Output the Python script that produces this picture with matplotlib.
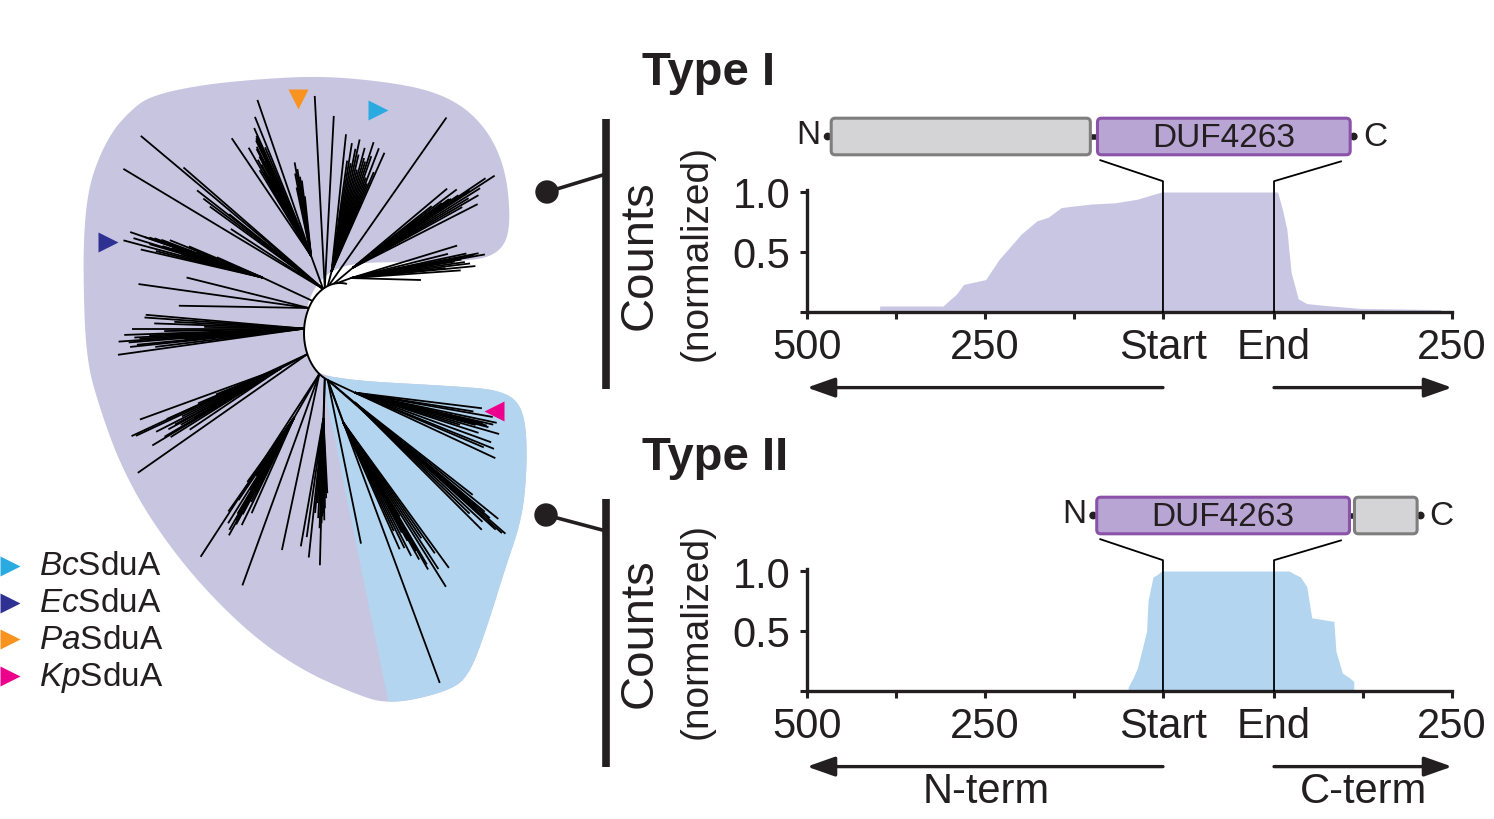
import numpy as np
import matplotlib
matplotlib.use("Agg")
import matplotlib.pyplot as plt
from matplotlib.patches import Polygon, FancyBboxPatch, Circle
from matplotlib.collections import LineCollection

plt.rcParams['font.family'] = ['Liberation Sans', 'DejaVu Sans']
plt.rcParams['mathtext.fontset'] = 'custom'
plt.rcParams['mathtext.rm'] = 'Liberation Sans'
plt.rcParams['mathtext.it'] = 'Liberation Sans:italic'

INK = '#231f20'
PURPLE_BG = '#c8c5e1'
BLUE_BG = '#b4d5ef'
DUF_FACE = '#b9a5d4'
DUF_EDGE = '#8a52a8'
GREY_FACE = '#d4d4d6'
GREY_EDGE = '#7e7e7e'

# ---------------- data: coverage profiles ----------------
# x in residues relative to domain: negative = N-terminal side, 0 = Start, END = End
END = 156
xtick_pos = [-500, -375, -250, -125, 0, END, END + 125, END + 250]
xtick_lab = ['500', '', '250', '', 'Start', 'End', '', '250']
ytick_pos = [0, 0.5, 1.0]
ytick_lab = ['', '0.5', '1.0']

type1_pos = [-398, -309, -290, -280, -249, -230, -218, -199, -177, -161, -143, -130,
             -100, -67, -36, -2, 161, 168, 174, 180, 190, 202, 227, 277, 390]
type1_cnt = [0.05, 0.05, 0.15, 0.23, 0.27, 0.44, 0.52, 0.65, 0.76, 0.79, 0.87, 0.88,
             0.90, 0.91, 0.94, 1.0, 1.0, 0.85, 0.69, 0.33, 0.11, 0.07, 0.055, 0.03, 0.02]

type2_pos = [-49, -42, -36, -30, -23, -21, -14, -8, -2, 177, 183, 193, 202, 209,
             240, 243, 252, 262, 268]
type2_cnt = [0.03, 0.11, 0.19, 0.33, 0.50, 0.75, 0.95, 0.97, 1.0, 1.0, 0.98, 0.95,
             0.87, 0.61, 0.58, 0.33, 0.15, 0.11, 0.08]

# protein architectures (residue units on the same axis)
type1_grey = (-466, -102)
type1_duf = (-92, 263)
type2_duf = (-93, 262)
type2_grey = (269, 357)

# ---------------- data: tree (polar branch data) ----------------
tree_center = (340, 334)
backbone_rx, backbone_ry = 36, 50
backbone_span = (80, 250)
clade_attach = [118, 118, 115, 110, 108, 100, 95, 140, 150, 175, 205, 205, 235, 235,
                245, 245, 250, 250, 250, 250]
clade_node_ang = [0, 110, 0, 75, 0, 40, 20, 155, 0, 0, 0, 208, 0, 240, 0, 268, 0, 290, 320, 335]
clade_node_len = [0, 35, 0, 15, 0, 25, 15, 55, 0, 0, 0, 30, 0, 50, 0, 40, 0, 45, 35, 30]
clade_tip_ang = [
    [149, 140, 142, 144, 147, 139, 141.5, 143],
    [124, 109, 115, 117, 119, 121, 114, 118, 112, 120, 116, 113, 100, 98, 102, 96, 99,
     115.5, 117.5, 118.5, 116.5, 119.5, 114.5, 101, 97],
    [93, 87],
    [84, 81, 78, 75, 72, 69, 66, 80, 76, 73, 70, 77, 68, 79, 74, 71, 82, 67],
    [55],
    [33, 27, 40, 35, 31, 36, 30, 38, 34, 29, 37, 33.5, 32, 35.5, 34.5],
    [10, 5.5, -1.6, 17, 7, 12, 9, 4, 14, 11, 6, 8, 10.5, 9.5],
    [165, 163, 161, 166, 160, 158, 162, 157, 164, 159, 167, 163, 161, 156,
     162.5, 160.5, 159.5, 161.5, 163.5],
    [172, 166, 179],
    [175, 184, 188, 183, 176, 178, 180, 182, 186, 181, 185, 179, 187, 177,
     183.5, 184.5, 182.5, 185.5],
    [205, 215],
    [200, 205, 212, 208, 210, 206, 203, 209, 207, 211, 204, 214, 202, 209.5, 210.5, 208.5],
    [237, 250, 258],
    [238, 240, 242, 236, 244, 239, 241, 237, 243, 235, 246, 234, 240.5, 239.5, 241.5],
    [268.5],
    [269, 270, 271, 267, 272, 266, 268, 270, 273, 265, 262, 264, 260, 269.5, 270.5],
    [281.5, 290.3, 318.7],
    [299, 302, 294, 296, 300, 297, 303, 305, 298, 301, 295, 304, 306, 299.5, 300.5, 298.5],
    [315, 318, 320, 316, 322, 319, 317, 321, 318.5, 319.5],
    [346, 335, 353, 350, 348, 344, 342, 340, 338, 351, 345, 337, 343, 346.5, 347, 345.5],
]
clade_tip_len = [
    [233, 238, 160, 140, 110, 185, 120, 150],
    [142, 165, 130, 120, 110, 100, 140, 90, 150, 125, 105, 118, 95, 80, 70, 60, 88,
     128, 112, 104, 122, 96, 132, 84, 76],
    [192, 172],
    [138, 130, 135, 128, 136, 132, 130, 110, 105, 115, 100, 120, 95, 125, 118, 122, 112, 108],
    [205],
    [169, 140, 123, 120, 135, 110, 145, 100, 160, 125, 130, 140, 150, 118, 128],
    [136, 125, 70, 111, 120, 118, 105, 110, 100, 130, 95, 115, 125, 112],
    [144, 135, 125, 110, 115, 100, 95, 80, 85, 70, 125, 60, 140, 50, 105, 120, 108, 90, 118],
    [172, 126, 130],
    [159, 186, 188, 170, 160, 150, 172, 180, 175, 140, 120, 100, 150, 130, 165, 176, 155, 168],
    [194, 207],
    [150, 160, 130, 120, 100, 110, 90, 80, 140, 150, 125, 110, 70, 115, 135, 128],
    [218, 225, 180],
    [125, 130, 110, 100, 120, 85, 135, 70, 95, 115, 105, 80, 118, 112, 122],
    [187],
    [105, 95, 90, 100, 80, 85, 110, 70, 75, 95, 120, 140, 130, 98, 102],
    [167, 323, 232],
    [157, 194, 139, 140, 170, 150, 175, 160, 125, 110, 120, 140, 180, 148, 165, 135],
    [180, 190, 170, 160, 150, 200, 175, 185, 165, 178],
    [136, 155, 128, 140, 145, 150, 130, 145, 150, 120, 125, 140, 110, 132, 142, 138],
]

# background clade region (outline of the whole tree, tree layout units)
region_x = [150, 200, 260, 320, 380, 430, 465, 490, 505, 510, 508, 495, 470, 400, 355, 330,
            313, 305, 304, 308, 322, 470, 500, 518, 526, 527, 522, 505, 488, 470, 450, 389,
            350, 300, 250, 195, 150, 120, 100, 86, 83, 85, 92, 110, 130]
region_y = [97, 86, 80, 77, 82, 91, 108, 135, 170, 210, 240, 256, 262, 263, 264, 272,
            290, 315, 340, 362, 380, 388, 392, 402, 425, 470, 520, 570, 625, 675, 692, 706,
            693, 670, 635, 580, 520, 465, 410, 360, 270, 215, 175, 135, 112]
# boundary between the two clades (Type I left, Type II right)
split_x = [322, 389]
split_y = [380, 706]

# highlighted tips
mark_names = ['Bc', 'Ec', 'Pa', 'Kp']
mark_colors = ['#29abe2', '#2e3192', '#f7931e', '#ec008c']
mark_x = [378, 108, 298, 494]
mark_y = [111, 243, 100, 412]
mark_shape = ['>', '>', 'v', '<']

# ---------------- figure ----------------
W, H = 1494, 820
fig = plt.figure(figsize=(W / 100, H / 100), dpi=100)
ax0 = fig.add_axes([0, 0, 1, 1])
ax0.set_xlim(0, W)
ax0.set_ylim(H, 0)
ax0.axis('off')


def chaikin(pts, n=3):
    p = np.asarray(pts, float)
    for _ in range(n):
        q = np.roll(p, -1, axis=0)
        p = np.column_stack([0.75 * p + 0.25 * q, 0.25 * p + 0.75 * q]).reshape(-1, 2)
    return p


outline = chaikin(np.column_stack([region_x, region_y]), 4)
ax0.add_patch(Polygon(outline, closed=True, facecolor=PURPLE_BG, edgecolor='none'))
blue = Polygon(outline, closed=True, facecolor=BLUE_BG, edgecolor='none')
ax0.add_patch(blue)
dx_s, dy_s = split_x[1] - split_x[0], split_y[1] - split_y[0]
clip = Polygon([(split_x[0], split_y[0] - 2), (700, split_y[0] - 2), (700, 800),
                (split_x[0] + dx_s * 1.3, split_y[0] + dy_s * 1.3)], closed=True,
               transform=ax0.transData)
blue.set_clip_path(clip)

cx, cy = tree_center


def bb(theta):
    t = np.radians(theta)
    return cx + backbone_rx * np.cos(t), cy - backbone_ry * np.sin(t)


def step(p, ang, length):
    t = np.radians(ang)
    return p[0] + length * np.cos(t), p[1] - length * np.sin(t)


segs = []
th = np.linspace(backbone_span[0], backbone_span[1], 60)
bbx, bby = bb(th)
ax0.plot(bbx, bby, color='black', lw=1.4, solid_capstyle='round')
for att, na, nl, tas, tls in zip(clade_attach, clade_node_ang, clade_node_len,
                                 clade_tip_ang, clade_tip_len):
    p0 = bb(att)
    node = step(p0, na, nl)
    if nl > 0:
        segs.append([p0, node])
    for a, l in zip(tas, tls):
        segs.append([node, step(node, a, l)])
ax0.add_collection(LineCollection(segs, colors='black', linewidths=1.3))

for x, y, c, m in zip(mark_x, mark_y, mark_colors, mark_shape):
    ax0.plot([x], [y], marker=m, ms=15, color=c, mec='none', ls='none')

# legend
for i, (nm, c) in enumerate(zip(mark_names, mark_colors)):
    y = 567 + i * 36.7
    ax0.plot([10], [y], marker='>', ms=14, color=c, mec='none', ls='none', clip_on=False)
    ax0.text(39, y, r'$\mathit{%s}$SduA' % nm, fontsize=24, color=INK, va='center', ha='left')

# ---------------- coverage panels ----------------
SCALE_Y = 120.0  # px per unit count


def make_panel(baseline_px):
    ax = fig.add_axes([807 / W, (H - baseline_px) / H, 645 / W, 1.02 * SCALE_Y / H])
    ax.set_xlim(-500, END + 250)
    ax.set_ylim(0, 1.02)
    ax.patch.set_alpha(0)
    for s in ['top', 'right']:
        ax.spines[s].set_visible(False)
    for s in ['left', 'bottom']:
        ax.spines[s].set_linewidth(2.4)
        ax.spines[s].set_color(INK)
    ax.set_xticks(xtick_pos)
    ax.set_xticklabels(xtick_lab)
    ax.set_yticks(ytick_pos)
    ax.set_yticklabels(ytick_lab)
    ax.tick_params(axis='both', labelsize=30, colors=INK, length=5, width=2.2)
    ax.tick_params(axis='x', pad=6)
    ax.tick_params(axis='y', pad=7)
    return ax


def to_px(ax, x, y):
    d = ax.transData.transform((x, y))
    return d[0], H - d[1]


def draw_panel(ax, pos, cnt, color, grey, duf, title, title_y, grey_first):
    xs = [pos[0]] + list(pos) + [pos[-1]]
    ys = [0] + list(cnt) + [0]
    ax.fill_between(xs, ys, 0, color=color, lw=0, zorder=1)
    # zoom lines
    ax.plot([-88, 0, 0], [1.265, 1.09, 0], color='black', lw=1.3, clip_on=False, zorder=3)
    ax.plot([250, END, END], [1.255, 1.09, 0], color='black', lw=1.3, clip_on=False, zorder=3)
    # arrows
    ay = -0.63
    for x0, x1 in [(0, -500), (END, END + 250)]:
        ax.annotate('', xy=(x1, ay), xytext=(x0, ay), xycoords='data',
                    arrowprops=dict(arrowstyle='-|>,head_length=1.7,head_width=0.6',
                                    lw=2.4, color=INK, shrinkA=0, shrinkB=0),
                    annotation_clip=False)
    # protein schematic
    y_lo, y_hi = 1.31, 1.615
    ymid = (y_lo + y_hi) / 2
    if grey_first:
        left_end, right_end = grey[0], duf[1]
        link = (grey[1], duf[0])
    else:
        left_end, right_end = duf[0], grey[1]
        link = (duf[1], grey[0])
    pl = to_px(ax, left_end - 5, ymid)
    pr = to_px(ax, right_end + 5, ymid)
    ax0.plot([pl[0], to_px(ax, left_end, ymid)[0]], [pl[1], pl[1]], color=INK, lw=3, zorder=4)
    ax0.plot([to_px(ax, right_end, ymid)[0], pr[0]], [pr[1], pr[1]], color=INK, lw=3, zorder=4)
    ax0.plot([to_px(ax, link[0], ymid)[0], to_px(ax, link[1], ymid)[0]], [pl[1], pl[1]],
             color=INK, lw=4, zorder=4)
    ax0.add_patch(Circle(pl, 3.2, color=INK, zorder=5))
    ax0.add_patch(Circle(pr, 3.2, color=INK, zorder=5))
    ax0.text(pl[0] - 7, pl[1] - 2, 'N', fontsize=24, ha='right', va='center', color=INK)
    ax0.text(pr[0] + 9, pr[1], 'C', fontsize=24, ha='left', va='center', color=INK)
    for (a, b), fc, ec, lab in [(grey, GREY_FACE, GREY_EDGE, ''), (duf, DUF_FACE, DUF_EDGE, 'DUF4263')]:
        x0p, y0p = to_px(ax, a, y_hi)
        x1p, y1p = to_px(ax, b, y_lo)
        ax0.add_patch(FancyBboxPatch((x0p, y0p), x1p - x0p, y1p - y0p,
                                     boxstyle='round,pad=0,rounding_size=4',
                                     facecolor=fc, edgecolor=ec, lw=2.2, zorder=6))
        if lab:
            ax0.text((x0p + x1p) / 2, (y0p + y1p) / 2 + 1, lab, fontsize=24, ha='center',
                     va='center', color=INK, zorder=7)
    ax0.text(642, title_y, title, fontsize=34, weight='bold', ha='left', va='baseline', color=INK)


ax1 = make_panel(313)
draw_panel(ax1, type1_pos, type1_cnt, '#c8c6e2', type1_grey, type1_duf, 'Type I', 85, True)
ax2 = make_panel(692)
draw_panel(ax2, type2_pos, type2_cnt, '#b3d5f0', type2_grey, type2_duf, 'Type II', 470, False)
ax2.text(-249, -0.83, 'N-term', fontsize=30, ha='center', va='center', color=INK)
ax2.text(END + 125, -0.83, 'C-term', fontsize=30, ha='center', va='center', color=INK)

# connectors from tree to panels
for (dx, dy), (ty, by_), cyc, cyb in [((547, 193), (120, 390), 255, 175),
                                       ((546, 516), (500, 768), 633, 532)]:
    ax0.plot([606, 606], [ty, by_], color=INK, lw=5.5, solid_capstyle='butt')
    ax0.plot([dx, 606], [dy, cyb], color=INK, lw=2.6)
    ax0.add_patch(Circle((dx, dy), 11, color=INK))
    ax0.text(640, cyc, 'Counts', rotation=90, fontsize=34, ha='center', va='center', color=INK)
    ax0.text(697, cyc - 2, '(normalized)', rotation=90, fontsize=28, ha='center', va='center',
             color=INK)

fig.savefig('out.png', dpi=100)
